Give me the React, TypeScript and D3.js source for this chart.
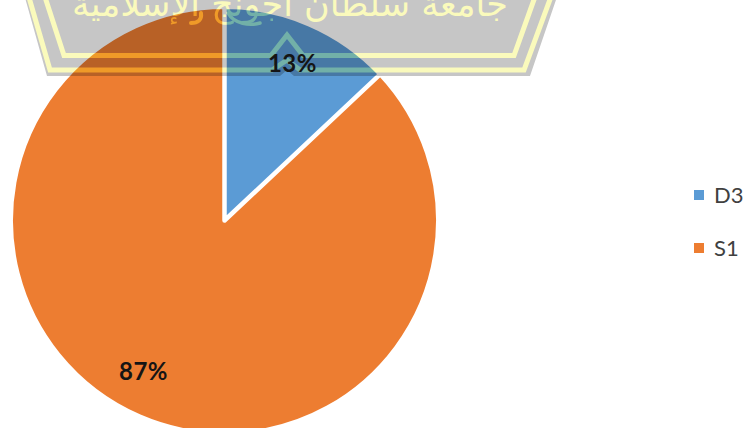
import React from "react";
import * as d3 from "d3";

const categories = ["D3", "S1"];
const shares = [13, 87];
const sliceColors = ["#5B9BD5", "#ED7D31"];
const crestMotto = "جامعة سلطان أجونج الإسلامية";

const WIDTH = 748;
const HEIGHT = 428;
const CX = 224.5;
const CY = 220.5;
const RADIUS = 211.5;
const GAP = 4.5;

// Crest colours: stripes take a different tint over each slice.
const CREST_GREY = "#C6C6C6";
const CREST_OUTLINE = "M24,-6 L47,76 L280,76 L287,70 L294,76 L530,76 L558,-6 Z";
const STRIPE = "#FAFABC";
const stripeOverSlice = ["#72B0A8", "#EF9A28"];
const INK = "#151515";

// Nudge for the large slice's label, in radians from its mid angle.
const labelAngleShift = [0, 0.085];

function CrestStripes() {
  return (
    <g fill="none" strokeLinejoin="miter">
      <path strokeWidth={5} d="M28,-6 L50,70 L272,70 L287,60 L300,70 L524,70 L552,-6" />
      <path strokeWidth={5} d="M44,-6 L64,55.5 L271,55.5 L287,35 L303,55.5 L514,55.5 L536,-6" />
      <path strokeWidth={3.5} strokeLinecap="round" d="M228,13 C234,24 250,26 260,23" />
      <path strokeWidth={4} strokeLinecap="round" d="M201,13 C202,20 198,23 191,23" />
      <text
        x={290}
        y={16}
        direction="rtl"
        textAnchor="middle"
        fontFamily="DejaVu Sans"
        fontWeight={400}
        fontSize={35}
        stroke="none"
        fill="currentColor"
      >
        {crestMotto}
      </text>
    </g>
  );
}

export default function App() {
  const pieData = d3.pie<number>().sort(null)(shares);
  // The mask's stroke eats half the gap from the rim, so the mask arc is grown by it.
  const maskArc = d3
    .arc<d3.PieArcDatum<number>>()
    .innerRadius(0)
    .outerRadius(RADIUS + GAP / 2);

  const total = d3.sum(shares);

  return (
    <svg
      width={WIDTH}
      height={HEIGHT}
      style={{ position: "absolute", left: 0, top: 0, display: "block" }}
    >
      <defs>
        {pieData.map((d, i) => (
          <mask id={`slice-${i}`} key={i} maskUnits="userSpaceOnUse" x={0} y={0} width={WIDTH} height={HEIGHT}>
            <path
              d={maskArc(d) as string}
              transform={`translate(${CX},${CY})`}
              fill="#fff"
              stroke="#000"
              strokeWidth={GAP}
              strokeLinejoin="round"
            />
          </mask>
        ))}
      </defs>
      <rect width={WIDTH} height={HEIGHT} fill="#fff" />

      {/* University crest on the bare page */}
      <path d={CREST_OUTLINE} fill={CREST_GREY} />
      <g stroke={STRIPE} color={STRIPE}>
        <CrestStripes />
      </g>

      {/* Each slice shows the crest through it, darkened and tinted */}
      {pieData.map((_, i) => (
        <g key={i} mask={`url(#slice-${i})`}>
          <rect width={WIDTH} height={HEIGHT} fill={sliceColors[i]} />
          <path d={CREST_OUTLINE} fill={CREST_GREY} style={{ mixBlendMode: "multiply" }} />
          <g stroke={stripeOverSlice[i]} color={stripeOverSlice[i]}>
            <CrestStripes />
          </g>
        </g>
      ))}

      {pieData.map((d, i) => {
        const mid = (d.startAngle + d.endAngle) / 2 + labelAngleShift[i];
        const [x, y] = d3.pointRadial(mid, 171);
        return (
          <text
            key={i}
            x={CX + x}
            y={CY + y}
            dy="0.36em"
            textAnchor="middle"
            fontFamily="Lato"
            fontWeight={700}
            fontSize={24}
            letterSpacing={0.5}
            fill={INK}
          >
            {`${Math.round((d.data / total) * 100)}%`}
          </text>
        );
      })}

      {categories.map((c, i) => (
        <g key={c} transform={`translate(694,${195 + i * 53})`}>
          <rect x={0} y={-5} width={10} height={10} fill={sliceColors[i]} />
          <text x={20} y={7.5} fontFamily="Lato" fontSize={22} fill="#404040">
            {c}
          </text>
        </g>
      ))}
    </svg>
  );
}
